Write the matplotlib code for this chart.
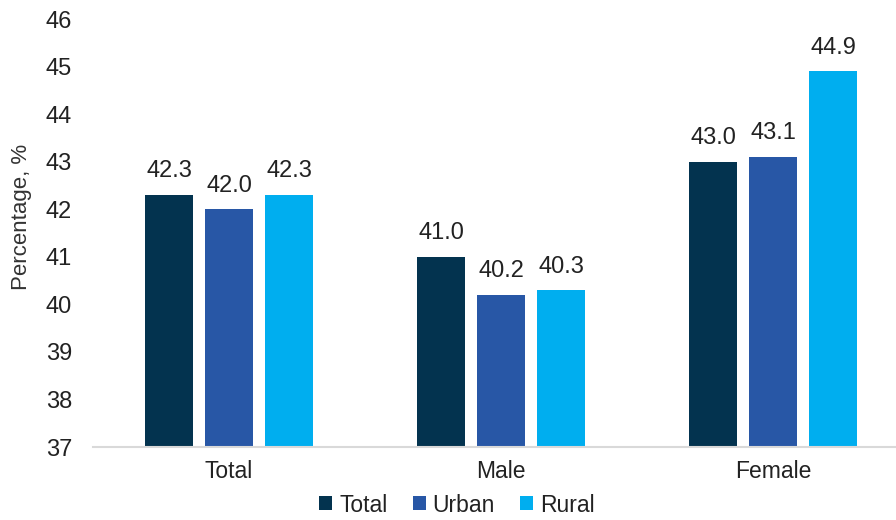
import matplotlib
matplotlib.use("Agg")
import matplotlib.pyplot as plt
import numpy as np

categories = ["Total", "Male", "Female"]
series_names = ["Total", "Urban", "Rural"]
total_vals = [42.3, 41.0, 43.0]
urban_vals = [42.0, 40.2, 43.1]
rural_vals = [42.3, 40.3, 44.9]
colors = ["#03334F", "#2857A6", "#00AEEF"]
yticks = [37, 38, 39, 40, 41, 42, 43, 44, 45, 46]

plt.rcParams['font.family'] = ['Liberation Sans', 'DejaVu Sans']

fig = plt.figure(figsize=(8.96, 5.2), dpi=100)
ax = fig.add_axes([93/896, 1-447/520, (909-93)/896, (447-19)/520])

x = np.arange(len(categories))
width = 0.176
step = 0.2206
for i, (vals, name, c) in enumerate(zip([total_vals, urban_vals, rural_vals], series_names, colors)):
    pos = x + (i - 1) * step
    ax.bar(pos, [v - 37 for v in vals], width, bottom=37, color=c, label=name, zorder=2)
    for xp, v in zip(pos, vals):
        ax.annotate(f"{v:.1f}", (xp, v), xytext=(0, 9), textcoords="offset points",
                    ha="center", va="bottom", fontsize=17, color="#222222")

ax.set_xlim(-0.5, 2.5)
ax.set_ylim(37, 46)
ax.set_yticks(yticks)
ax.set_xticks(x)
ax.set_xticklabels(categories)
ax.tick_params(axis="y", length=0, pad=15, labelsize=17, labelcolor="#222222")
ax.tick_params(axis="x", length=0, pad=9, labelsize=16.5, labelcolor="#222222")
for s in ["top", "right", "left"]:
    ax.spines[s].set_visible(False)
ax.spines["bottom"].set_color("#D9D9D9")
ax.spines["bottom"].set_linewidth(1.5)
ax.set_ylabel("Percentage, %", fontsize=16, color="#333333")
ax.yaxis.set_label_coords(-(93-32)/816, 0.537)

leg = fig.legend(loc="center", bbox_to_anchor=(457/896, 1-505/520), ncol=3, frameon=False,
                 fontsize=16.5, handlelength=0.57, handleheight=0.57, handletextpad=0.3,
                 columnspacing=1.1, borderpad=0)
for t in leg.get_texts():
    t.set_color("#222222")

fig.savefig("out.png", dpi=100)
